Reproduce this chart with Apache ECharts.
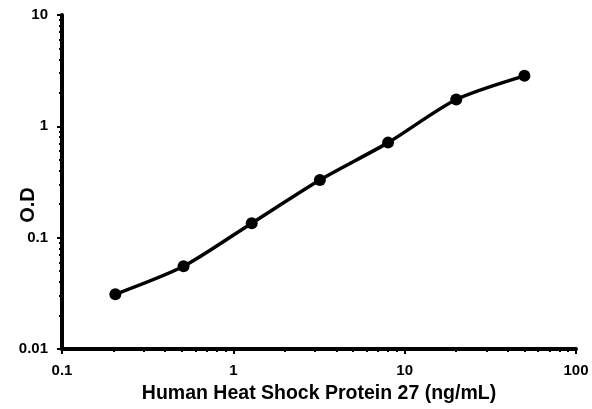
<!DOCTYPE html>
<html><head><meta charset="utf-8">
<script src="https://cdn.jsdelivr.net/npm/echarts@6/dist/echarts.min.js"></script>
<style>html,body{margin:0;padding:0;background:#fff}#c{width:592px;height:409px}</style>
</head><body><div id="c"></div>
<script>
const concentrations = [0.2048, 0.512, 1.28, 3.2, 8, 20, 50];
const odValues = [0.031, 0.0553, 0.135, 0.33, 0.714, 1.74, 2.84];
const xTitle = 'Human Heat Shock Protein 27 (ng/mL)';
const yTitle = 'O.D';

const chart = echarts.init(document.getElementById('c'), null, {renderer: 'canvas'});
const font = '"Liberation Sans", Arial, sans-serif';
const fmt = v => String(+v.toPrecision(6));
chart.setOption({
  animation: false,
  grid: {left: 62, top: 15, right: 16, bottom: 60, containLabel: false, outerBoundsMode: 'none'},
  graphic: [{
    type: 'text', x: 28, y: 205, rotation: Math.PI / 2,
    style: {text: yTitle, fontFamily: font, fontWeight: 'bold', fontSize: 20, fill: '#000',
            align: 'center', verticalAlign: 'middle'}
  }],
  xAxis: {
    type: 'log', min: 0.1, max: 100, logBase: 10,
    name: xTitle, nameLocation: 'middle', nameGap: 35,
    nameTextStyle: {fontFamily: font, fontWeight: 'bold', fontSize: 19.5, color: '#000'},
    axisLine: {show: true, onZero: false, lineStyle: {color: '#000', width: 4}},
    axisTick: {show: true, inside: false, length: 5, lineStyle: {color: '#000', width: 2}},
    minorTick: {show: true, splitNumber: 9, length: 3, lineStyle: {color: '#000', width: 2}},
    splitLine: {show: false},
    axisLabel: {fontFamily: font, fontWeight: 'bold', fontSize: 15, color: '#000', margin: 14, formatter: fmt}
  },
  yAxis: {
    type: 'log', min: 0.01, max: 10, logBase: 10,
    axisLine: {show: true, onZero: false, lineStyle: {color: '#000', width: 4}},
    axisTick: {show: true, inside: false, length: 5, lineStyle: {color: '#000', width: 2}},
    minorTick: {show: true, splitNumber: 9, length: 3, lineStyle: {color: '#000', width: 2}},
    splitLine: {show: false},
    axisLabel: {fontFamily: font, fontWeight: 'bold', fontSize: 15, color: '#000', margin: 14, formatter: fmt}
  },
  series: [{
    type: 'line',
    data: concentrations.map((c, i) => [c, odValues[i]]),
    smooth: 0.25,
    symbol: 'circle', symbolSize: 12,
    itemStyle: {color: '#000'},
    lineStyle: {color: '#000', width: 3.5}
  }]
});
</script></body></html>
